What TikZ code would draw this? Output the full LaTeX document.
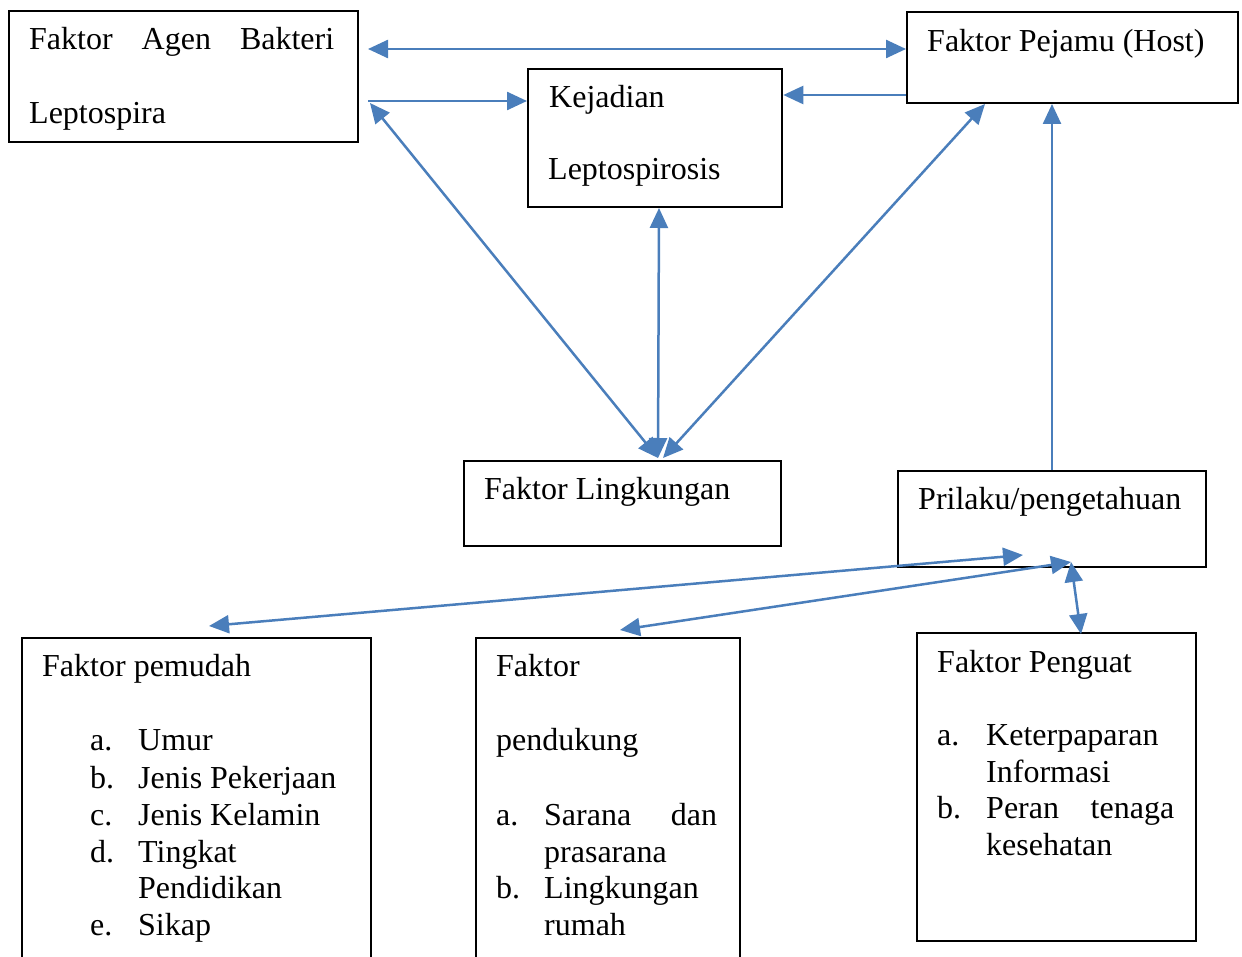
\documentclass[tikz,border=0pt]{standalone}
\usepackage{fontspec}
\setmainfont{Liberation Serif}
\usetikzlibrary{arrows.meta,calc}
\definecolor{arrowblue}{RGB}{74,126,187}
\tikzset{tip/.tip={Triangle[length=20pt,width=18pt]}}
\begin{document}
\begin{tikzpicture}[x=1pt,y=-1pt,
  box/.style={draw=black,line width=2.3pt,rectangle,anchor=north west,inner sep=0pt},
  lbl/.style={anchor=base west,inner sep=0pt,font=\fontsize{32}{37}\selectfont},
  conn/.style={draw=arrowblue,line width=2.5pt,-tip},
  dconn/.style={draw=arrowblue,line width=2.5pt,tip-tip}]
\useasboundingbox (0,0) rectangle (1242,957);
\begin{scope}
\clip (0,0) rectangle (1242,957);
% boxes
\node[box,minimum width=349pt,minimum height=131pt] (agen) at (8,10) {};
\node[box,minimum width=331pt,minimum height=91pt] (host) at (906,11) {};
\node[box,minimum width=254pt,minimum height=138pt] (kej) at (527,68) {};
\node[box,minimum width=317pt,minimum height=85pt] (ling) at (463,460) {};
\node[box,minimum width=308pt,minimum height=96pt] (pril) at (897,470) {};
\node[box,minimum width=349pt,minimum height=343pt] (pemudah) at (21,637) {};
\node[box,minimum width=264pt,minimum height=343pt] (pendukung) at (475,637) {};
\node[box,minimum width=279pt,minimum height=308pt] (penguat) at (916,632) {};
\end{scope}
% texts
\node[lbl] (t1) at (29,50) {\makebox[305pt][s]{Faktor Agen Bakteri}};
\node[lbl] (t2) at (29,124) {Leptospira};
\node[lbl] (t3) at (927,52) {Faktor Pejamu (Host)};
\node[lbl] (t4) at (549,108) {Kejadian};
\node[lbl] (t5) at (548,180) {Leptospirosis};
\node[lbl] (t6) at (484,499) {Faktor Lingkungan};
\node[lbl] (t7) at (918,509) {Prilaku/pengetahuan};
% pemudah
\node[lbl] (p0) at (42,676) {Faktor pemudah};
\node[lbl] (pa) at (90,750) {a.};
\node[lbl] (pat) at (138,750) {Umur};
\node[lbl] (pb) at (90,788) {b.};
\node[lbl] (pbt) at (138,788) {Jenis Pekerjaan};
\node[lbl] (pc) at (90,825) {c.};
\node[lbl] (pct) at (138,825) {Jenis Kelamin};
\node[lbl] (pd) at (90,862) {d.};
\node[lbl] (pdt) at (138,862) {Tingkat};
\node[lbl] (pdt2) at (138,898) {Pendidikan};
\node[lbl] (pe) at (90,935) {e.};
\node[lbl] (pet) at (138,935) {Sikap};
% pendukung
\node[lbl] (d0) at (496,676) {Faktor};
\node[lbl] (d1) at (496,750) {pendukung};
\node[lbl] (da) at (496,825) {a.};
\node[lbl] (dat) at (544,825) {\makebox[173pt][s]{Sarana dan}};
\node[lbl] (dat2) at (544,862) {prasarana};
\node[lbl] (db) at (496,898) {b.};
\node[lbl] (dbt) at (544,898) {Lingkungan};
\node[lbl] (dbt2) at (544,935) {rumah};
% penguat
\node[lbl] (g0) at (937,672) {Faktor Penguat};
\node[lbl] (ga) at (937,745) {a.};
\node[lbl] (gat) at (986,745) {Keterpaparan};
\node[lbl] (gat2) at (986,782) {Informasi};
\node[lbl] (gb) at (937,818) {b.};
\node[lbl] (gbt) at (986,818) {\makebox[188pt][s]{Peran tenaga}};
\node[lbl] (gbt2) at (986,855) {kesehatan};
% connector end points
\coordinate (c1) at (368,49);
\coordinate (c2) at (368,101);
\coordinate (c3) at (906,95);
\coordinate (c4) at (370,103);
\coordinate (lt) at (658,458);
\coordinate (lt2) at (663,458);
\coordinate (kb) at (659,208);
\coordinate (hb) at (985,104);
\coordinate (pt) at (1052,470);
\coordinate (hb2) at (1052,104);
\coordinate (e1) at (209,626);
\coordinate (e2) at (1023,555);
\coordinate (e3) at (620,630);
\coordinate (e4) at (1071,562);
\coordinate (e5) at (1081,634);
% connectors
\draw[dconn] (c1) -- (host.west |- c1);
\draw[conn] (c2) -- (kej.west |- c2);
\draw[conn] (host.west |- c3) -- (kej.east |- c3);
\draw[dconn] (c4) -- (lt);
\draw[dconn] (kb) -- (lt);
\draw[dconn] (hb) -- (lt2);
\draw[conn] (pt) -- (hb2);
\draw[dconn] (e1) -- (e2);
\draw[dconn] (e3) -- (e4);
\draw[dconn] (e4) -- (e5);
\end{tikzpicture}
\end{document}
